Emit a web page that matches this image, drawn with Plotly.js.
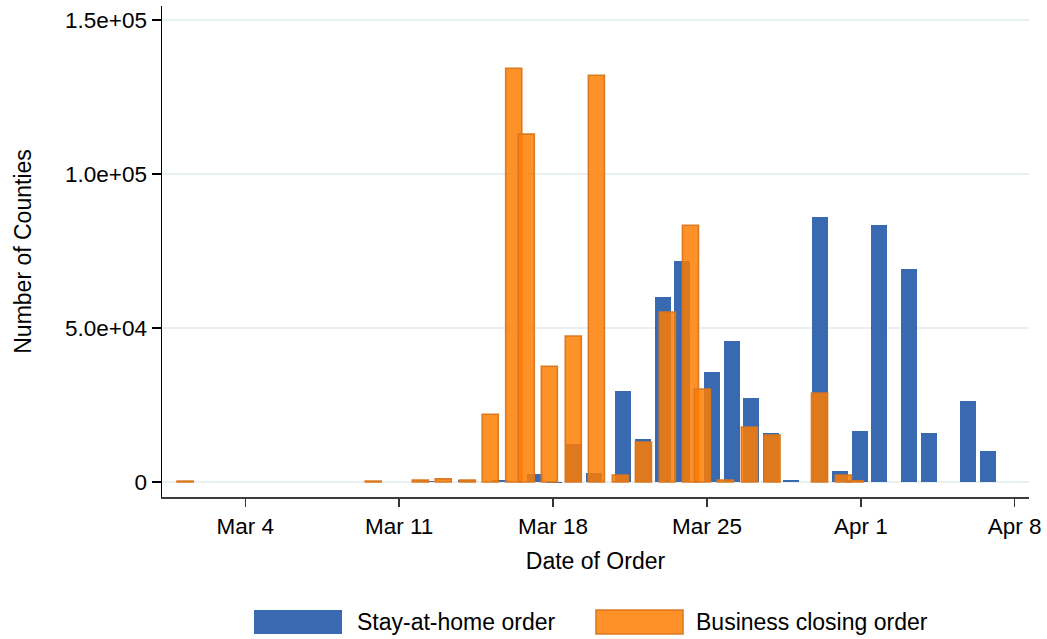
<!DOCTYPE html>
<html>
<head>
<meta charset="utf-8">
<script src="https://cdn.plot.ly/plotly-3.0.1.min.js"></script>
<style>
  html, body { margin: 0; padding: 0; background: #ffffff; }
  #chart { width: 1047px; height: 639px; }
</style>
</head>
<body>
<div id="chart"></div>
<script>
// x = day of March (Apr 1 = 32), as positioned in the reference
const stayDays = [12.21, 14.03, 15.57, 17.17, 18.06, 18.94, 19.85, 21.17, 22.08, 22.99, 23.86,
                  25.23, 26.14, 27.00, 27.91, 28.82, 30.14, 31.05, 31.96, 32.82, 34.19, 35.10,
                  36.87, 37.78];
const stayValues = [400, 500, 650, 2700, -400, 12300, 3000, 29550, 13960, 60170, 71750,
                    35700, 45780, 27270, 15900, 650, 86150, 3570, 16560, 83440, 69160, 15900,
                    26300, 10060];

const bizDays = [1.26, 9.82, 11.96, 13.00, 14.10, 15.14, 16.21, 16.78, 17.83, 18.92, 19.97,
                 21.06, 22.11, 23.20, 24.25, 24.79, 25.84, 26.93, 27.96, 30.12, 31.21, 31.73];
const bizValues = [300, 300, 600, 1000, 650, 22000, 134300, 112900, 37560, 47400, 132000,
                   2270, 13000, 55200, 83350, 30200, 650, 17850, 15250, 28900, 2270, 400];

const xTickVals = [4, 11, 18, 25, 32, 39];
const xTickText = ['Mar 4', 'Mar 11', 'Mar 18', 'Mar 25', 'Apr 1', 'Apr 8'];
const yTickVals = [0, 50000, 100000, 150000];
const yTickText = ['0', '5.0e+04', '1.0e+05', '1.5e+05'];

const seriesNames = ['Stay-at-home order', 'Business closing order'];

const BLUE = '#3969b1';
const FONT = 'Liberation Sans, Arial, Helvetica, sans-serif';
const FS = 23;

const traces = [
  {
    type: 'bar', name: seriesNames[0], x: stayDays, y: stayValues, width: 0.73,
    marker: { color: BLUE, line: { width: 0 } },
    showlegend: false, hoverinfo: 'x+y'
  },
  {
    type: 'bar', name: seriesNames[1], x: bizDays, y: bizValues, width: 0.73,
    marker: { color: 'rgba(255,124,0,0.84)', line: { color: 'rgba(218,118,28,0.95)', width: 1.6 } },
    showlegend: false, hoverinfo: 'x+y'
  }
];

const L = 162, R = 1029, T = 6, B = 497;
const W = R - L, H = B - T;
const px = v => (v - L) / W;
const py = v => (B - v) / H;

const layout = {
  width: 1047, height: 639,
  margin: { l: L, r: 1047 - R, t: T, b: 639 - B, pad: 0 },
  paper_bgcolor: '#ffffff', plot_bgcolor: '#ffffff',
  barmode: 'overlay', bargap: 0,
  font: { family: FONT, size: FS, color: '#000000' },
  showlegend: false,
  xaxis: {
    range: [0.21, 39.65],
    tickmode: 'array', tickvals: xTickVals, ticktext: xTickText,
    ticks: 'outside', ticklen: 8, tickwidth: 1.5, tickcolor: '#333333',
    showline: true, linecolor: '#3c3c3c', linewidth: 2,
    showgrid: false, zeroline: false,
    tickfont: { family: FONT, size: 22.5, color: '#000' },
    title: { text: 'Date of Order', font: { family: FONT, size: FS, color: '#000' }, standoff: 15 }
  },
  yaxis: {
    range: [-4870, 154500],
    tickmode: 'array', tickvals: yTickVals, ticktext: yTickText,
    ticks: 'outside', ticklen: 9, tickwidth: 1.5, tickcolor: '#000',
    showline: true, linecolor: '#000000', linewidth: 1.5,
    showgrid: true, gridcolor: '#e8f0f2', gridwidth: 1.5, zeroline: false,
    tickfont: { family: FONT, size: 22.5, color: '#000' },
    title: { text: 'Number of Counties', font: { family: FONT, size: FS, color: '#000' }, standoff: 27 }
  },
  shapes: [
    { type: 'rect', xref: 'paper', yref: 'paper', x0: px(254), x1: px(342), y0: py(634), y1: py(610),
      fillcolor: BLUE, line: { width: 0 } },
    { type: 'rect', xref: 'paper', yref: 'paper', x0: px(596), x1: px(683), y0: py(634), y1: py(610),
      fillcolor: 'rgba(255,124,0,0.84)', line: { color: 'rgba(218,118,28,0.95)', width: 1.6 } }
  ],
  annotations: [
    { xref: 'paper', yref: 'paper', x: px(355), y: py(622), xanchor: 'left', yanchor: 'middle',
      text: seriesNames[0], showarrow: false, font: { family: FONT, size: FS, color: '#000' } },
    { xref: 'paper', yref: 'paper', x: px(694), y: py(622), xanchor: 'left', yanchor: 'middle',
      text: seriesNames[1], showarrow: false, font: { family: FONT, size: FS, color: '#000' } }
  ]
};

Plotly.newPlot('chart', traces, layout, { displayModeBar: false, staticPlot: true });
</script>
</body>
</html>
